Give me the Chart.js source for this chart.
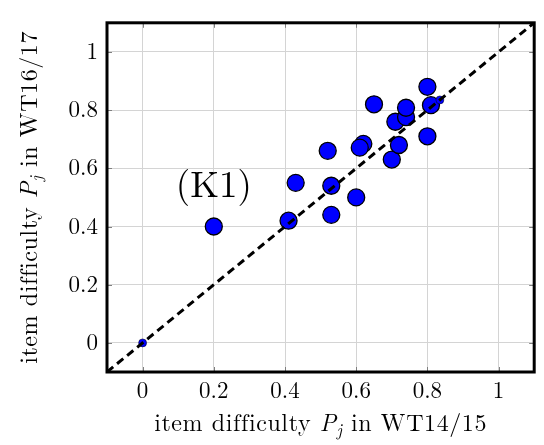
<!DOCTYPE html>
<html>
<head>
<meta charset="utf-8">
<title>item difficulty</title>
<script src="https://cdn.jsdelivr.net/npm/chart.js@4.4.1/dist/chart.umd.min.js"></script>
<style>
  html, body { margin: 0; padding: 0; background: #fff; }
  canvas { display: block; }
</style>
</head>
<body>
<canvas id="chart" width="544" height="445"></canvas>
<script>
// =======================
// Data
const wt1415 = [0.20, 0.41, 0.43, 0.53, 0.53, 0.60, 0.52, 0.62, 0.61, 0.65, 0.70, 0.72, 0.71, 0.74, 0.74, 0.80, 0.81, 0.80];
const wt1617 = [0.40, 0.42, 0.55, 0.54, 0.44, 0.50, 0.66, 0.684, 0.671, 0.82, 0.63, 0.68, 0.76, 0.776, 0.808, 0.88, 0.817, 0.71];
// the two tiny markers
const smallX = [0, 0.835];
const smallY = [0, 0.835];
// diagonal reference line
const diag = [-0.1, 1.1];
const tickValues = [0, 0.2, 0.4, 0.6, 0.8, 1];
const axisMin = -0.1, axisMax = 1.1;
const annotText = ['(K1)'];
const annotX = [0.2];
const annotY = [0.5];

const FONT = '"Latin Modern Roman", "Liberation Serif", "Times New Roman", serif';

// =======================
// Frame, inner tick marks, annotation and axis titles
const framePlugin = {
  id: 'frame',
  afterDatasetsDraw(chart) {
    const {ctx, chartArea: a, scales} = chart;
    ctx.save();
    // small ticks inside the frame
    ctx.strokeStyle = '#7f7f7f';
    ctx.lineWidth = 1;
    tickValues.forEach(v => {
      const px = Math.round(scales.x.getPixelForValue(v)) + 0.5;
      const py = Math.round(scales.y.getPixelForValue(v)) + 0.5;
      ctx.beginPath();
      ctx.moveTo(px, a.top); ctx.lineTo(px, a.top + 5);
      ctx.moveTo(px, a.bottom); ctx.lineTo(px, a.bottom - 5);
      ctx.moveTo(a.left, py); ctx.lineTo(a.left + 5, py);
      ctx.moveTo(a.right, py); ctx.lineTo(a.right - 5, py);
      ctx.stroke();
    });
    // annotation
    ctx.fillStyle = '#000';
    ctx.font = '37px ' + FONT;
    ctx.textAlign = 'center';
    ctx.textBaseline = 'alphabetic';
    annotText.forEach((t, i) => {
      ctx.fillText(t, scales.x.getPixelForValue(annotX[i]), scales.y.getPixelForValue(annotY[i]));
    });
    // frame
    ctx.strokeStyle = '#000';
    ctx.lineWidth = 3;
    ctx.strokeRect(a.left, a.top, a.right - a.left, a.bottom - a.top);
    ctx.restore();
  },
  afterDraw(chart) {
    const {ctx, chartArea: a} = chart;
    const size = 24;
    const parts = (season) => [
      {t: 'item difficulty ', f: size + 'px ' + FONT, dy: 0},
      {t: 'P', f: 'italic ' + size + 'px ' + FONT, dy: 0},
      {t: 'j', f: 'italic ' + Math.round(size * 0.7) + 'px ' + FONT, dy: 5},
      {t: ' in ' + season, f: size + 'px ' + FONT, dy: 0}
    ];
    function drawParts(list, cx, baseY) {
      let total = 0;
      list.forEach(p => { ctx.font = p.f; p.w = ctx.measureText(p.t).width; total += p.w; });
      let x = cx - total / 2;
      list.forEach(p => {
        ctx.font = p.f;
        ctx.fillText(p.t, x, baseY + p.dy);
        x += p.w;
      });
    }
    ctx.save();
    ctx.fillStyle = '#000';
    ctx.textAlign = 'left';
    ctx.textBaseline = 'alphabetic';
    ctx.letterSpacing = '0.6px';
    drawParts(parts('WT14/15'), (a.left + a.right) / 2, 431);
    ctx.translate(37, (a.top + a.bottom) / 2);
    ctx.rotate(-Math.PI / 2);
    drawParts(parts('WT16/17'), 0, 0);
    ctx.restore();
  }
};

// =======================
// Chart
function buildChart() {
  const items = wt1415.map((x, i) => ({x: x, y: wt1617[i]}));
  const small = smallX.map((x, i) => ({x: x, y: smallY[i]}));
  const line = diag.map(v => ({x: v, y: v}));

  const axis = (fitProp, fitVal, pad) => ({
    type: 'linear',
    min: axisMin,
    max: axisMax,
    afterBuildTicks: s => { s.ticks = tickValues.map(v => ({value: v})); },
    afterFit: s => { s[fitProp] = fitVal; },
    ticks: {
      color: '#000',
      font: {family: FONT, size: 23},
      padding: pad,
      callback: v => String(+v.toFixed(1))
    },
    grid: {color: '#d4d4d4', lineWidth: 1, drawTicks: false},
    border: {display: false}
  });

  new Chart(document.getElementById('chart'), {
    type: 'scatter',
    data: {
      datasets: [
        {type: 'line', data: line, borderColor: '#000', borderWidth: 3, borderDash: [8, 5],
         pointRadius: 0, fill: false},
        {data: small, pointRadius: 4, backgroundColor: '#0000ff', borderColor: '#000', borderWidth: 0.5},
        {data: items, pointRadius: 8.5, backgroundColor: '#0000ff', borderColor: '#000', borderWidth: 1.3}
      ]
    },
    options: {
      responsive: false,
      animation: false,
      devicePixelRatio: 1,
      layout: {padding: {top: 8, right: 1, left: 0, bottom: 0}},
      plugins: {legend: {display: false}, tooltip: {enabled: false}},
      scales: {
        x: axis('height', 73, 5),
        y: axis('width', 107, 9)
      }
    },
    plugins: [framePlugin]
  });
}

window.onload = buildChart;
</script>
</body>
</html>
